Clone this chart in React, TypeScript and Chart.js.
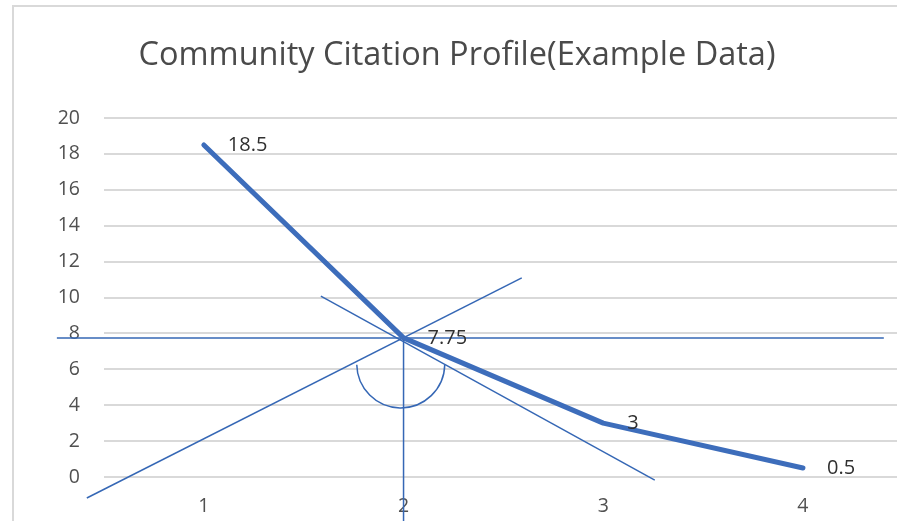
import React, { useEffect, useRef } from "react";
import { Chart, registerables } from "chart.js";

Chart.register(...registerables);

// ---- data ----
const TITLE = "Community Citation Profile(Example Data)";
const CATEGORIES = [1, 2, 3, 4];
const VALUES = [18.5, 7.75, 3, 0.5];
const Y_MIN = 0;
const Y_MAX = 20;
const Y_STEP = 2;

// hand-drawn overlay lines (endpoints in data units)
const HORIZONTAL_LINE = [
  { x: 0.264, y: 7.75 },
  { x: 4.405, y: 7.75 },
];
const VERTICAL_LINE = [
  { x: 2.0, y: 7.75 },
  { x: 2.0, y: -2.6 },
];
const RISING_LINE = [
  { x: 0.414, y: -1.17 },
  { x: 2.592, y: 11.09 },
];
const FALLING_LINE = [
  { x: 1.586, y: 10.08 },
  { x: 3.258, y: -0.17 },
];
const ARC_CENTER = { x: 1.986, y: 6.3 };

const MAIN_COLOR = "#3d6dbb";
const THIN_COLOR = "#3567b5";

export default function App() {
  const ref = useRef<HTMLCanvasElement | null>(null);

  useEffect(() => {
    const canvas = ref.current;
    if (!canvas) return;

    const frame = {
      id: "frame",
      beforeDraw(chart: any) {
        const ctx = chart.ctx;
        ctx.save();
        ctx.fillStyle = "#ffffff";
        ctx.fillRect(0, 0, chart.width, chart.height);
        ctx.strokeStyle = "#d9d9d9";
        ctx.lineWidth = 2;
        ctx.beginPath();
        ctx.moveTo(13, chart.height);
        ctx.lineTo(13, 6);
        ctx.lineTo(chart.width, 6);
        ctx.stroke();
        ctx.restore();
      },
    };

    const titlePlugin = {
      id: "customTitle",
      afterDraw(chart: any) {
        const ctx = chart.ctx;
        ctx.save();
        ctx.font = '32.5px "Open Sans"';
        ctx.fillStyle = "#4a4a4a";
        ctx.textAlign = "center";
        ctx.textBaseline = "alphabetic";
        ctx.fillText(TITLE, 457, 65);
        ctx.restore();
      },
    };

    const overlay = {
      id: "arcOverlay",
      afterDatasetsDraw(chart: any) {
        const ctx = chart.ctx;
        const xs = chart.scales.x;
        const ys = chart.scales.y;
        const cx = xs.getPixelForValue(ARC_CENTER.x);
        const cy = ys.getPixelForValue(ARC_CENTER.y);
        ctx.save();
        ctx.strokeStyle = THIN_COLOR;
        ctx.lineWidth = 1.5;
        ctx.beginPath();
        ctx.arc(cx, cy, 44, 0.02, Math.PI - 0.02);
        ctx.stroke();
        ctx.restore();
      },
    };

    const labels = {
      id: "pointLabels",
      afterDatasetsDraw(chart: any) {
        const ctx = chart.ctx;
        const meta = chart.getDatasetMeta(0);
        ctx.save();
        ctx.font = '20px "Open Sans"';
        ctx.fillStyle = "#303030";
        ctx.textAlign = "left";
        ctx.textBaseline = "middle";
        meta.data.forEach((pt: any, i: number) => {
          ctx.fillText(String(VALUES[i]), pt.x + 24, pt.y);
        });
        ctx.restore();
      },
    };

    const thin = (data: any[]) => ({
      data,
      borderColor: THIN_COLOR,
      borderWidth: 1.5,
      pointRadius: 0,
      tension: 0,
      clip: false as any,
    });

    const chart = new Chart(canvas, {
      type: "line",
      data: {
        datasets: [
          {
            data: CATEGORIES.map((x, i) => ({ x, y: VALUES[i] })),
            borderColor: MAIN_COLOR,
            borderWidth: 5,
            pointRadius: 0,
            tension: 0,
            borderCapStyle: "round",
            borderJoinStyle: "round",
            order: 0,
          } as any,
          { ...thin(HORIZONTAL_LINE), order: 1 },
          { ...thin(VERTICAL_LINE), order: 1 },
          { ...thin(RISING_LINE), order: 1 },
          { ...thin(FALLING_LINE), order: 1 },
        ],
      },
      options: {
        animation: false,
        responsive: false,
        devicePixelRatio: 1,
        layout: { padding: { top: 118, left: 0, right: 0, bottom: 0 } },
        plugins: {
          legend: { display: false },
          title: { display: false },
          tooltip: { enabled: false },
        },
        scales: {
          x: {
            type: "linear",
            min: 0.5,
            max: 4.471,
            afterBuildTicks: (s: any) => {
              s.ticks = CATEGORIES.map((v) => ({ value: v }));
            },
            afterFit: (s: any) => {
              s.height = 44;
            },
            grid: { display: false, drawTicks: false },
            border: { display: false },
            ticks: {
              padding: 18,
              color: "#505050",
              font: { family: "Open Sans", size: 19.5 },
              maxRotation: 0,
              autoSkip: false,
              callback: (v: any) => String(v),
            },
          },
          y: {
            min: Y_MIN,
            max: Y_MAX,
            afterFit: (s: any) => {
              s.width = 104;
            },
            grid: { color: "#d9d9d9", lineWidth: 2, drawTicks: false },
            border: { display: false },
            ticks: {
              stepSize: Y_STEP,
              padding: 24,
              color: "#505050",
              font: { family: "Open Sans", size: 19.5 },
            },
          },
        },
      },
      plugins: [frame, titlePlugin, overlay, labels],
    });

    return () => chart.destroy();
  }, []);

  return (
    <div style={{ position: "fixed", left: 0, top: 0, width: 897, height: 521, overflow: "hidden", background: "#fff" }}>
      <canvas ref={ref} width={897} height={521} style={{ display: "block" }} />
    </div>
  );
}
